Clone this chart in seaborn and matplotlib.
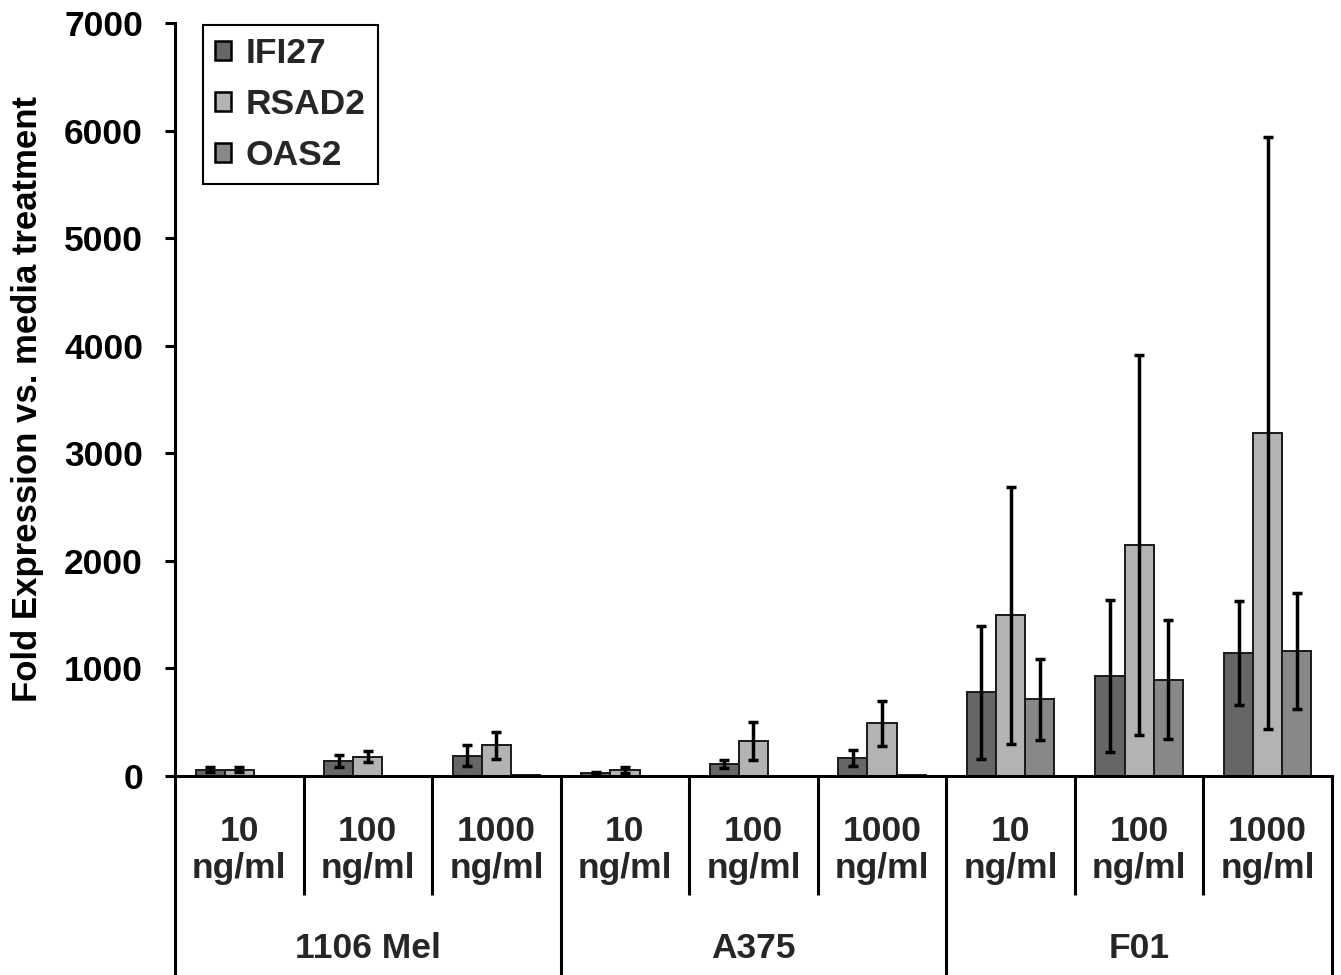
import numpy as np
import pandas as pd
import matplotlib
matplotlib.use("Agg")
import matplotlib.pyplot as plt
import seaborn as sns
from matplotlib.transforms import blended_transform_factory

cell_lines = ["1106 Mel", "A375", "F01"]
doses = ["10", "100", "1000"]
dose_labels = ["10\nng/ml", "100\nng/ml", "1000\nng/ml"]
genes = ["IFI27", "RSAD2", "OAS2"]

ifi27_mean = [60, 140, 190, 25, 110, 165, 780, 930, 1140]
ifi27_err = [25, 55, 100, 15, 40, 75, 618, 705, 483]
rsad2_mean = [60, 180, 285, 55, 325, 490, 1495, 2150, 3190]
rsad2_err = [25, 50, 125, 30, 175, 210, 1195, 1766, 2750]
oas2_mean = [1, 2, 12, 1, 2, 12, 715, 893, 1160]
oas2_err = [0, 0, 0, 0, 0, 0, 377, 553, 537]

colors = ["#666666", "#b3b3b3", "#888888"]

means = [ifi27_mean, rsad2_mean, oas2_mean]
errs = [ifi27_err, rsad2_err, oas2_err]
rows = []
for g, m, e in zip(genes, means, errs):
    for ci, c in enumerate(cell_lines):
        for di, d in enumerate(doses):
            k = ci * 3 + di
            rows.append(dict(group=f"{c} {d}", gene=g, value=m[k], err=e[k]))
df = pd.DataFrame(rows)
order = [f"{c} {d}" for c in cell_lines for d in doses]

sns.set_style("ticks")
plt.rcParams['font.family'] = ['Liberation Sans', 'DejaVu Sans']
plt.rcParams['font.weight'] = 'bold'

FS = 25.5
W, H = 1341, 975
fig = plt.figure(figsize=(W / 100, H / 100), dpi=100)
x0, x1, ybase, ytop = 175, 1332, 776, 23
ax = fig.add_axes([x0 / W, (H - ybase) / H, (x1 - x0) / W, (ybase - ytop) / H])

sns.barplot(data=df, x="group", y="value", hue="gene", order=order,
            hue_order=genes, palette=colors, width=0.68, errorbar=None,
            edgecolor="#1a1a1a", linewidth=1.4, ax=ax, zorder=2)

for cont, g in zip(ax.containers, genes):
    sub = df[df.gene == g].set_index("group").loc[order]
    xs = np.array([b.get_x() + b.get_width() / 2 for b in cont])
    mask = sub["err"].values > 0
    ax.errorbar(xs[mask], sub["value"].values[mask], yerr=sub["err"].values[mask],
                fmt="none", ecolor="black", elinewidth=2.5, capsize=3.6,
                capthick=2.5, zorder=3)

ax.set_xlim(-0.5, 8.5)
ax.set_ylim(0, 7000)
ax.set_yticks(range(0, 7001, 1000))
ax.set_xticks([])
ax.set_xlabel("")
ax.spines["top"].set_visible(False)
ax.spines["right"].set_visible(False)
for s in ["left", "bottom"]:
    ax.spines[s].set_linewidth(2.2)
    ax.spines[s].set_color("black")
ax.tick_params(axis="y", direction="out", length=7, width=2.2, pad=16,
               labelsize=FS, colors="black")
for lab in ax.get_yticklabels():
    lab.set_fontweight("bold")

ax.set_ylabel("Fold Expression vs. media treatment", fontsize=25,
              fontweight="bold", color="black")
ax.yaxis.set_label_coords((44 - x0) / (x1 - x0), 0.5)

# category table below the axis
trans = blended_transform_factory(ax.transData, ax.transAxes)
ah = ybase - ytop
y_short = -(895 - ybase) / ah
y_long = -(H - ybase) / ah
for i in range(10):
    xb = i - 0.5
    yb = y_long if i % 3 == 0 else y_short
    ax.plot([xb, xb], [0, yb], transform=trans, color="black", lw=2.2,
            clip_on=False, solid_capstyle="butt")

y_dose = -(850 - ybase) / ah
y_cell = -(949 - ybase) / ah
for ci, c in enumerate(cell_lines):
    for di, dl in enumerate(dose_labels):
        ax.text(ci * 3 + di, y_dose, dl, transform=trans, ha="center",
                va="center", fontsize=FS, fontweight="bold", linespacing=1.15)
    ax.text(ci * 3 + 1, y_cell, c, transform=trans, ha="center",
            va="center", fontsize=FS, fontweight="bold")

leg = ax.legend(loc="upper left", bbox_to_anchor=((203 - x0) / (x1 - x0), (ybase - 25) / ah),
                frameon=True, fancybox=False, edgecolor="black", framealpha=1,
                fontsize=FS, handlelength=0.45, handleheight=0.45,
                handletextpad=0.4, labelspacing=0.5, borderpad=0.35,
                borderaxespad=0, title=None)
leg.get_frame().set_linewidth(1.5)
for t in leg.get_texts():
    t.set_fontweight("bold")
for h in leg.legend_handles:
    h.set_edgecolor("black")
    h.set_linewidth(1.8)

fig.savefig("out.png", dpi=100)
